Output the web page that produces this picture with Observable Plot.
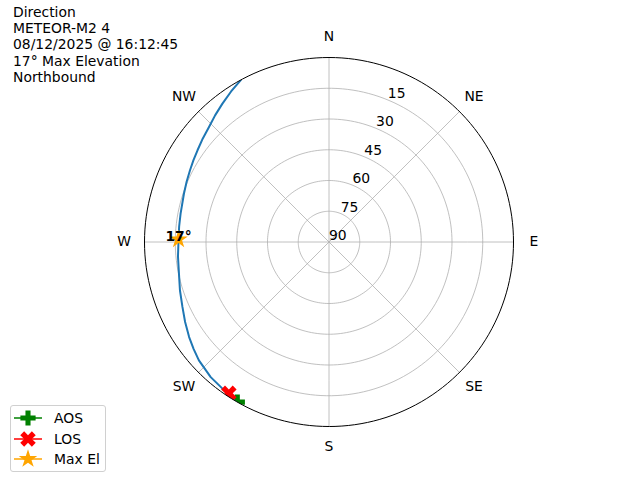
<!DOCTYPE html>
<html><head><meta charset="utf-8">
<script src="https://cdn.jsdelivr.net/npm/d3@7"></script>
<script src="https://cdn.jsdelivr.net/npm/@observablehq/plot@0.6"></script>
<style>
body{margin:0;background:#fff;font-family:"DejaVu Sans",sans-serif;}
#wrap{position:relative;width:640px;height:480px;overflow:hidden;}
#title{position:absolute;left:13px;top:4px;font-size:13.9px;line-height:16.2px;color:#000;white-space:pre;}
#legend{position:absolute;left:10px;top:405px;width:94px;height:65px;border:1px solid #d0d0d0;border-radius:3px;background:rgba(255,255,255,0.8);box-sizing:content-box;}
.row{position:absolute;left:0;height:20px;display:flex;align-items:center;font-size:13.9px;color:#000;}
.row svg{margin-left:3px;}
.row span{position:absolute;left:43px;white-space:nowrap;}
</style></head><body>
<div id="wrap"><div id="chart"></div><div id="title"></div><div id="legend"></div></div>
<script>
// ---- data ----
const titleLines = ["Direction", "METEOR-M2 4", "08/12/2025 @ 16:12:45", "17° Max Elevation", "Northbound"];
const compassAz = [0, 45, 90, 135, 180, 225, 270, 315];
const compassLabels = ["N", "NE", "E", "SE", "S", "SW", "W", "NW"];
const ringEl = [15, 30, 45, 60, 75];
const ringLabelEl = [15, 30, 45, 60, 75, 90];
const ringLabels = ["15", "30", "45", "60", "75", "90"];
const trackAz = [210.0, 216, 221.2, 227.7, 235.8, 246.1, 258.1, 271, 280.8, 288.5, 297.3, 304.9, 313.8, 322.4, 331.5];
const trackEl = [0.5, 1.6, 2.4, 4.2, 7.5, 11.8, 15.2, 16.6, 16.3, 15.4, 13.7, 11.8, 8.9, 4.8, 0];
const aosAz = 209.8, aosEl = 0.0;
const losAz = 213.5, losEl = 1.5;
const maxAz = 271, maxEl = 16.6;
const maxElLabel = "17°";
const legendLabels = ["AOS", "LOS", "Max El"];
const legendColors = ["green", "red", "orange"];
const trackColor = "#1f77b4";

const lon = az => 180 - az;
const cap = el => d3.geoCircle().center([0, 90]).radius(90 - el)();

const chart = Plot.plot({
  width: 640, height: 480,
  marginLeft: 144, marginRight: 127, marginTop: 57, marginBottom: 54,
  projection: {type: "azimuthal-equidistant", rotate: [0, -90], domain: cap(0), clip: false},
  style: {fontFamily: "DejaVu Sans", fontSize: "13.9px", background: "white", color: "black", overflow: "visible"},
  marks: [
    Plot.geo(ringEl.map(cap), {stroke: "#b0b0b0", strokeWidth: 0.8, strokeOpacity: 1}),
    Plot.link(compassAz, {x1: d => lon(d), y1: () => 90, x2: d => lon(d), y2: () => 0, stroke: "#b0b0b0", strokeWidth: 0.8, strokeOpacity: 1}),
    Plot.text(ringLabelEl, {x: () => lon(22.5), y: d => d, text: (d, i) => ringLabels[i], textAnchor: "start", lineAnchor: "bottom", dy: -2, fontSize: 13.9, fill: "black"}),
    Plot.line(trackAz.map((a, i) => [lon(a), trackEl[i]]), {stroke: trackColor, strokeWidth: 2}),
    Plot.dot([[lon(aosAz), aosEl]], {symbol: "cross", fill: "green", r: 6.4, stroke: "none"}),
    Plot.dot([[lon(losAz), losEl]], {symbol: "cross", fill: "red", r: 6.9, rotate: 45, stroke: "none"}),
    Plot.geo([cap(0)], {stroke: "black", strokeWidth: 1, strokeOpacity: 1}),
    Plot.text(compassAz, {x: d => lon(d), y: () => -10, text: (d, i) => compassLabels[i], fontSize: 13.9, fill: "black"}),
    Plot.dot([[lon(maxAz), maxEl]], {symbol: "star", fill: "orange", r: 5.8, stroke: "none"}),
    Plot.text([[lon(maxAz), maxEl]], {text: () => maxElLabel, textAnchor: "middle", lineAnchor: "bottom", dy: 2, fontWeight: "bold", fontSize: 13.9, fill: "black"})
  ]
});
document.getElementById("chart").appendChild(chart);

// clip the track and pass markers to the outer circle drawn by Plot
const geoGroups = chart.querySelectorAll('g[aria-label="geo"]');
const outerPath = geoGroups.length ? geoGroups[geoGroups.length - 1].querySelector("path") : null;
if (outerPath) {
  const bb = outerPath.getBBox();
  const ns = "http://www.w3.org/2000/svg";
  const defs = document.createElementNS(ns, "defs");
  const cp = document.createElementNS(ns, "clipPath");
  cp.setAttribute("id", "circleClip");
  const c = document.createElementNS(ns, "circle");
  c.setAttribute("cx", bb.x + bb.width / 2);
  c.setAttribute("cy", bb.y + bb.height / 2);
  c.setAttribute("r", (bb.width + bb.height) / 4);
  cp.appendChild(c); defs.appendChild(cp); chart.insertBefore(defs, chart.firstChild);
  const toClip = [...chart.querySelectorAll('g[aria-label="line"]'), ...[...chart.querySelectorAll('g[aria-label="dot"]')].slice(0, 2)];
  toClip.forEach(g => g.setAttribute("clip-path", "url(#circleClip)"));
}
document.getElementById("title").textContent = titleLines.join("\n");

// legend
const legendSymbols = [d3.symbolCross, d3.symbolCross, d3.symbolStar];
const legendRot = [0, 45, 0];
const legendSizes = [6.4, 6.9, 5.8];
const leg = document.getElementById("legend");
legendLabels.forEach((lab, i) => {
  const row = document.createElement("div");
  row.className = "row";
  row.style.top = (2 + i * 20.5) + "px";
  const path = d3.symbol(legendSymbols[i], Math.PI * legendSizes[i] ** 2)();
  row.innerHTML = `<svg width="32" height="20"><line x1="0" y1="10" x2="28" y2="10" stroke="${legendColors[i]}" stroke-width="1.5"/><path d="${path}" fill="${legendColors[i]}" transform="translate(14,10) rotate(${legendRot[i]})"/></svg>`;
  const s = document.createElement("span");
  s.textContent = lab;
  row.appendChild(s);
  leg.appendChild(row);
});
</script>
</body></html>
